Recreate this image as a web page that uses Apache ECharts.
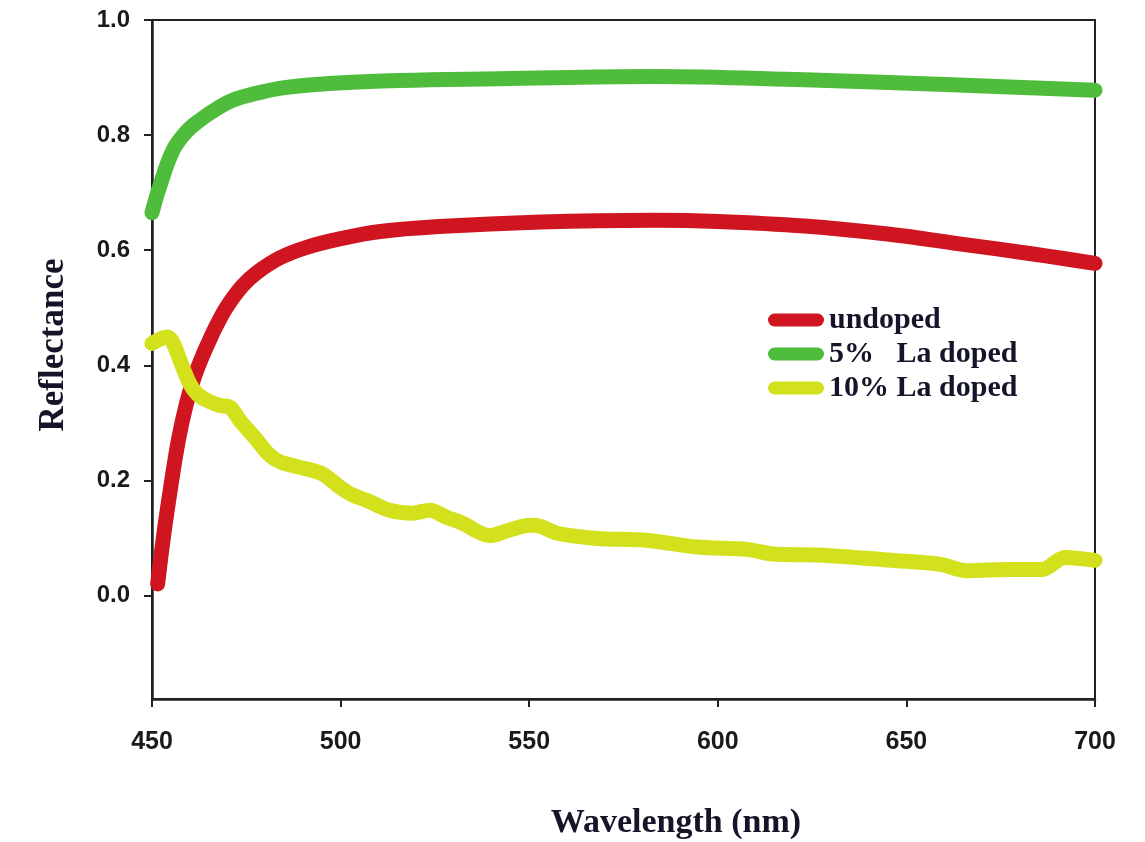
<!DOCTYPE html>
<html>
<head>
<meta charset="utf-8">
<script src="https://cdn.jsdelivr.net/npm/echarts@6/dist/echarts.min.js"></script>
<style>
html,body{margin:0;padding:0;background:#fff;}
#chart{width:1145px;height:842px;}
</style>
</head>
<body>
<div id="chart"></div>
<script>
// ---- data ----
const seriesNames = ['undoped', '5%   La doped', '10% La doped'];

const wlUndoped = [451.5, 453, 455, 457, 459, 461, 463, 465, 467, 470, 474, 478, 484, 491, 500, 510, 526, 553, 583, 600, 623, 645, 664, 684, 700];
const reflUndoped = [0.02, 0.10, 0.19, 0.27, 0.33, 0.375, 0.41, 0.44, 0.468, 0.503, 0.538, 0.562, 0.587, 0.605, 0.62, 0.632, 0.641, 0.649, 0.652, 0.65, 0.642, 0.628, 0.611, 0.593, 0.577];

const wl5 = [450, 452, 455.6, 459, 462.7, 467, 471.5, 478, 484.7, 498, 515.7, 542, 583, 623, 664, 700];
const refl5 = [0.665, 0.71, 0.774, 0.805, 0.826, 0.845, 0.861, 0.873, 0.882, 0.89, 0.895, 0.898, 0.902, 0.896, 0.887, 0.878];

const wl10 = [450, 452, 454, 455.5, 457.4, 460, 462, 464.6, 468, 470.7, 473.3, 477.8, 481, 484, 489, 495, 499.8, 503, 507, 513, 519, 523.7, 528, 532.5, 536, 539.6, 544, 550.2, 553, 557.4, 568, 581, 594.5, 607.7, 614.6, 628, 646, 659, 666, 677, 686, 692, 700];
const refl10 = [0.438, 0.445, 0.449, 0.44, 0.409, 0.368, 0.35, 0.339, 0.33, 0.327, 0.304, 0.27, 0.245, 0.232, 0.223, 0.212, 0.188, 0.175, 0.165, 0.148, 0.143, 0.148, 0.136, 0.125, 0.112, 0.104, 0.112, 0.122, 0.12, 0.108, 0.099, 0.096, 0.084, 0.08, 0.072, 0.07, 0.061, 0.054, 0.043, 0.045, 0.045, 0.066, 0.061];

const yTickValues = [0, 0.2, 0.4, 0.6, 0.8, 1.0];
const xTitle = 'Wavelength (nm)';
const yTitle = 'Reflectance';

const colors = ['#cf1520', '#4fbc3c', '#d3e01c'];

function pairs(xs, ys){ return xs.map((x, i) => [x, ys[i]]); }

const chart = echarts.init(document.getElementById('chart'), null, {renderer: 'canvas'});

const pill = 'path://M6.5,0 L49.5,0 A6.5,6.5 0 0 1 49.5,13 L6.5,13 A6.5,6.5 0 0 1 6.5,0 Z';

const option = {
  backgroundColor: '#ffffff',
  animation: false,
  color: colors,
  grid: {
    left: 152, right: 50, top: 20, bottom: 143,
    show: true, borderColor: '#222', borderWidth: 2, backgroundColor: 'transparent'
  },
  legend: {
    left: 763, top: 300, orient: 'vertical',
    icon: pill, itemWidth: 56, itemHeight: 13, itemGap: 4,
    itemStyle: {borderWidth: 0},
    textStyle: {
      fontFamily: 'Liberation Serif', fontWeight: 'bold', fontSize: 30,
      lineHeight: 30, color: '#15152a', padding: [0, 0, 0, 0]
    },
    data: seriesNames
  },
  xAxis: {
    type: 'value', min: 450, max: 700, interval: 50,
    axisLine: {show: true, onZero: false, lineStyle: {color: '#222', width: 2.5}},
    axisTick: {show: true, inside: false, length: 8, lineStyle: {color: '#222', width: 2}},
    axisLabel: {
      margin: 31, fontFamily: 'Liberation Sans', fontWeight: 'bold', fontSize: 25, color: '#1a1a1a'
    },
    splitLine: {show: false}
  },
  yAxis: {
    type: 'value', min: -0.18, max: 1.0,
    axisLine: {show: true, onZero: false, lineStyle: {color: '#222', width: 2.5}},
    axisTick: {show: true, inside: false, length: 8, customValues: yTickValues, lineStyle: {color: '#222', width: 2}},
    axisLabel: {
      margin: 22, customValues: yTickValues,
      fontFamily: 'Liberation Sans', fontWeight: 'bold', fontSize: 24, color: '#1a1a1a',
      formatter: v => v.toFixed(1)
    },
    splitLine: {show: false}
  },
  graphic: [
    {
      type: 'text', x: 676, y: 823,
      style: {text: xTitle, font: 'bold 34px "Liberation Serif"', fill: '#15152a', align: 'center', verticalAlign: 'middle'}
    },
    {
      type: 'text', x: 54, y: 345, rotation: Math.PI / 2,
      style: {text: yTitle, font: 'bold 35px "Liberation Serif"', fill: '#15152a', align: 'center', verticalAlign: 'middle'}
    }
  ],
  series: [
    {
      name: seriesNames[0], type: 'line', data: pairs(wlUndoped, reflUndoped),
      showSymbol: false, symbol: 'none', smooth: 0.4,
      lineStyle: {width: 15, color: colors[0], cap: 'round', join: 'round'}
    },
    {
      name: seriesNames[1], type: 'line', data: pairs(wl5, refl5),
      showSymbol: false, symbol: 'none', smooth: 0.4,
      lineStyle: {width: 15, color: colors[1], cap: 'round', join: 'round'}
    },
    {
      name: seriesNames[2], type: 'line', data: pairs(wl10, refl10),
      showSymbol: false, symbol: 'none', smooth: 0.3,
      lineStyle: {width: 15, color: colors[2], cap: 'round', join: 'round'}
    }
  ]
};
chart.setOption(option);
</script>
</body>
</html>
